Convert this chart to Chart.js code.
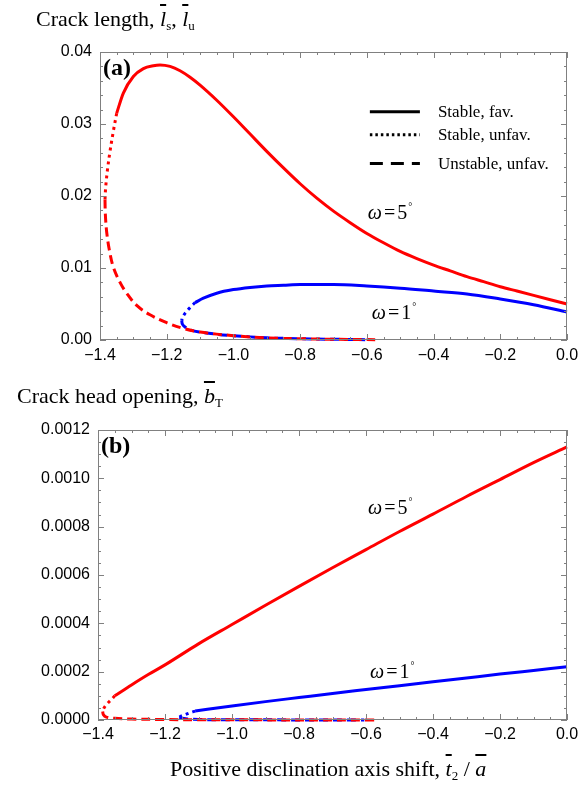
<!DOCTYPE html>
<html>
<head>
<meta charset="utf-8">
<script src="https://cdn.jsdelivr.net/npm/chart.js@4/dist/chart.umd.min.js"></script>
<style>
  body { margin: 0; background: #fff; }
  #page { position: relative; width: 587px; height: 789px; overflow: hidden; }
  .box { position: absolute; left: 0; width: 587px; }
  .ttl { position: absolute; font-family: "Liberation Serif", serif; font-size: 22px; color: #000; white-space: nowrap; }
  .ov { font-style: italic; text-decoration: overline; }
  sub { font-size: 13px; vertical-align: -4px; }
</style>
</head>
<body>
<div id="page">
  <div class="box" style="top:0;height:380px"><canvas id="lenChart"></canvas></div>
  <div class="box" style="top:380px;height:409px"><canvas id="openChart"></canvas></div>
  <div class="ttl" style="left:36px;top:6px">Crack length, <span class="ov">l</span><sub>s</sub>, <span class="ov">l</span><sub>u</sub></div>
  <div class="ttl" style="left:17px;top:383px">Crack head opening, <span class="ov">b</span><sub>T</sub></div>
  <div class="ttl" style="left:170px;top:756px">Positive disclination axis shift, <span class="ov">t</span><sub>2</sub> / <span class="ov">a</span></div>
</div>
<script>
// x: disclination axis shift, pairs are [x, y]
const shiftTicks = [-1.4, -1.2, -1.0, -0.8, -0.6, -0.4, -0.2, 0.0];
const lenTicks = [0, 0.01, 0.02, 0.03, 0.04];
const openTicks = [0, 0.0002, 0.0004, 0.0006, 0.0008, 0.0010, 0.0012];

// (a) crack length, omega = 5 deg
const len5Fav = [[-1.35,0.0315],[-1.33,0.0343],[-1.30,0.0366],[-1.27,0.0377],[-1.24,0.0381],[-1.22,0.0382],
  [-1.19,0.0380],[-1.16,0.0374],[-1.13,0.0365],[-1.10,0.0354],[-1.05,0.0333],[-1.00,0.0310],[-0.95,0.0286],
  [-0.90,0.0262],[-0.85,0.0239],[-0.80,0.0217],[-0.75,0.0197],[-0.70,0.0179],[-0.65,0.0163],[-0.60,0.0148],
  [-0.55,0.0135],[-0.50,0.0123],[-0.45,0.0113],[-0.40,0.0104],[-0.35,0.0096],[-0.30,0.0088],[-0.25,0.0081],
  [-0.20,0.0074],[-0.15,0.0068],[-0.10,0.0062],[-0.05,0.0056],[0.00,0.0050]];
const len5Unfav = [[-1.35,0.0315],[-1.36,0.0290],[-1.37,0.0262],[-1.378,0.0235],[-1.383,0.0212],[-1.385,0.0195]];
const len5Unst = [[-1.385,0.0195],[-1.384,0.0175],[-1.380,0.0150],[-1.372,0.0125],[-1.36,0.0101],[-1.34,0.0080],
  [-1.32,0.0065],[-1.29,0.0048],[-1.25,0.0035],[-1.20,0.0024],[-1.15,0.0016],[-1.10,0.0011],[-1.00,0.0006],
  [-0.90,0.0003],[-0.80,0.00018],[-0.70,0.0001],[-0.575,0.00005]];
// (a) crack length, omega = 1 deg
const len1Fav = [[-1.115,0.0052],[-1.09,0.0058],[-1.05,0.0065],[-1.00,0.0070],[-0.95,0.0073],[-0.90,0.0075],
  [-0.85,0.0076],[-0.80,0.0077],[-0.70,0.0077],[-0.60,0.0075],[-0.50,0.0072],[-0.40,0.0068],[-0.30,0.0064],
  [-0.20,0.0057],[-0.10,0.0049],[0.00,0.0039]];
const len1Unfav = [[-1.115,0.0052],[-1.13,0.0045],[-1.145,0.0037],[-1.153,0.0031],[-1.155,0.0027]];
const len1Unst = [[-1.155,0.0027],[-1.153,0.0022],[-1.145,0.0018],[-1.13,0.0014],[-1.10,0.0011],[-1.05,0.0008],
  [-1.00,0.0006],[-0.90,0.0003],[-0.80,0.00018],[-0.70,0.0001],[-0.605,0.00005]];

// (b) crack head opening, omega = 5 deg
const open5Fav = [[-1.35,0.00010],[-1.30,0.000145],[-1.25,0.000188],[-1.20,0.000228],[-1.10,0.000315],
  [-1.00,0.000395],[-0.90,0.000475],[-0.80,0.000553],[-0.70,0.00063],[-0.60,0.000705],[-0.50,0.00078],
  [-0.40,0.000852],[-0.30,0.000925],[-0.20,0.000995],[-0.10,0.001065],[0.00,0.00113]];
const open5Unfav = [[-1.35,0.00010],[-1.36,0.000085],[-1.372,0.000068],[-1.382,0.00005],[-1.386,0.000035]];
const open5Unst = [[-1.386,0.000035],[-1.384,0.000022],[-1.375,0.000012],[-1.35,0.000007],[-1.30,0.000004],
  [-1.20,0.000002],[-1.10,0.000001],[-0.575,0]];
// (b) crack head opening, omega = 1 deg
const open1Fav = [[-1.11,0.000037],[-1.00,0.000058],[-0.90,0.000076],[-0.80,0.000093],[-0.70,0.000110],
  [-0.60,0.000126],[-0.50,0.000142],[-0.40,0.000158],[-0.30,0.000174],[-0.20,0.00019],[-0.10,0.000205],[0.00,0.00022]];
const open1Unfav = [[-1.11,0.000037],[-1.125,0.000030],[-1.14,0.000022],[-1.152,0.000016],[-1.157,0.000012]];
const open1Unst = [[-1.157,0.000012],[-1.15,0.000007],[-1.13,0.000004],[-1.10,0.000002],[-1.00,0.000001],[-0.605,0]];

const RED = '#ff0000', BLUE = '#0000ff';
const DASHES = { fav: [], unfav: [3, 4], unst: [9, 5] };

function line(points, color, kind) {
  const ds = {
    data: points.map(p => ({ x: p[0], y: p[1] })),
    borderColor: color,
    borderWidth: 3,
    borderDash: DASHES[kind],
    pointRadius: 0,
    fill: false,
    clip: 4
  };
  if (kind === 'fav') ds.cubicInterpolationMode = 'monotone';
  else ds.tension = 0.35;
  return ds;
}

const minus = s => s.replace('-', '\u2212');

// frame with inward ticks + panel annotations
const framePlugin = {
  id: 'frame',
  afterDraw(chart, args, o) {
    const { ctx, chartArea: a, scales: { x, y } } = chart;
    ctx.save();
    ctx.strokeStyle = '#808080';
    ctx.lineWidth = 1;
    ctx.strokeRect(Math.round(a.left) + 0.5, Math.round(a.top) + 0.5, Math.round(a.width) - 1, Math.round(a.height) - 1);

    const tickSet = (scale, step, major, draw) => {
      const n = Math.round((scale.max - scale.min) / step);
      for (let i = 0; i <= n; i++) {
        const v = scale.min + i * step;
        const r = v / major;
        const isMajor = Math.abs(r - Math.round(r)) < 1e-6;
        draw(Math.round(scale.getPixelForValue(v)) + 0.5, isMajor ? 6 : 3);
      }
    };
    ctx.beginPath();
    tickSet(x, o.xMinor, o.xMajor, (px, len) => {
      ctx.moveTo(px, a.bottom); ctx.lineTo(px, a.bottom - len);
      ctx.moveTo(px, a.top); ctx.lineTo(px, a.top + len);
    });
    tickSet(y, o.yMinor, o.yMajor, (py, len) => {
      ctx.moveTo(a.left, py); ctx.lineTo(a.left + len, py);
      ctx.moveTo(a.right, py); ctx.lineTo(a.right - len, py);
    });
    ctx.stroke();

    ctx.fillStyle = '#000';
    ctx.textBaseline = 'alphabetic';
    ctx.font = 'bold 24px "Liberation Serif"';
    ctx.fillText(o.panel, a.left + 3, a.top + 23);

    o.omegas.forEach(l => {
      let px = x.getPixelForValue(l.x);
      const py = y.getPixelForValue(l.y);
      ctx.font = 'italic 20px "Liberation Serif"';
      ctx.fillText('\u03c9', px, py);
      px += ctx.measureText('\u03c9').width + 2;
      ctx.font = '20px "Liberation Serif"';
      ctx.fillText('=', px, py);
      px += ctx.measureText('=').width + 2;
      ctx.fillText(l.deg, px, py);
      px += ctx.measureText(l.deg).width + 1;
      ctx.font = '10px "Liberation Serif"';
      ctx.fillText('\u00b0', px, py - 9);
    });

    if (o.legend) {
      const lg = o.legend;
      lg.rows.forEach((r, i) => {
        const py = y.getPixelForValue(lg.y[i]);
        const x0 = x.getPixelForValue(lg.x0), x1 = x.getPixelForValue(lg.x1);
        ctx.beginPath();
        ctx.setLineDash(r.dash);
        ctx.strokeStyle = '#000';
        ctx.lineWidth = 3;
        ctx.moveTo(x0, py); ctx.lineTo(x1, py);
        ctx.stroke();
        ctx.setLineDash([]);
        ctx.font = '17px "Liberation Serif"';
        ctx.fillText(r.text, x.getPixelForValue(lg.xt), py + 5);
      });
    }
    ctx.restore();
  }
};

function axisX(height, pad) {
  return {
    type: 'linear', min: -1.4, max: 0,
    afterFit: s => { s.height = height; },
    afterBuildTicks: s => { s.ticks = shiftTicks.map(v => ({ value: v })); },
    grid: { display: false, drawTicks: false },
    border: { display: false },
    ticks: {
      padding: pad, maxRotation: 0, color: '#000',
      font: { family: 'Liberation Sans', size: 16 },
      callback: v => minus(v.toFixed(1))
    }
  };
}
function axisY(width, max, ticks, dec) {
  return {
    type: 'linear', min: 0, max: max,
    afterFit: s => { s.width = width; },
    afterBuildTicks: s => { s.ticks = ticks.map(v => ({ value: v })); },
    grid: { display: false, drawTicks: false },
    border: { display: false },
    ticks: {
      padding: 8, color: '#000',
      font: { family: 'Liberation Sans', size: 16 },
      callback: v => v.toFixed(dec)
    }
  };
}

new Chart(document.getElementById('lenChart'), {
  type: 'line',
  data: {
    datasets: [
      line(len5Fav, RED, 'fav'), line(len5Unfav, RED, 'unfav'), line(len5Unst, RED, 'unst'),
      line(len1Fav, BLUE, 'fav'), line(len1Unfav, BLUE, 'unfav'), line(len1Unst, BLUE, 'unst')
    ]
  },
  options: {
    responsive: true, maintainAspectRatio: false, animation: false,
    layout: { padding: { top: 52, right: 20, left: 0, bottom: 0 } },
    scales: { x: axisX(40, 6), y: axisY(100, 0.04, lenTicks, 2) },
    plugins: {
      legend: { display: false }, tooltip: { enabled: false },
      frame: {
        panel: '(a)', xMinor: 0.05, xMajor: 0.2, yMinor: 0.002, yMajor: 0.01,
        omegas: [{ x: -0.597, y: 0.0168, deg: '5' }, { x: -0.585, y: 0.0029, deg: '1' }],
        legend: {
          x0: -0.591, x1: -0.441, xt: -0.387, y: [0.0317, 0.0285, 0.0245],
          rows: [{ text: 'Stable, fav.', dash: [] }, { text: 'Stable, unfav.', dash: [2.5, 3] },
                 { text: 'Unstable, unfav.', dash: [13, 8] }]
        }
      }
    }
  },
  plugins: [framePlugin]
});

new Chart(document.getElementById('openChart'), {
  type: 'line',
  data: {
    datasets: [
      line(open5Fav, RED, 'fav'), line(open5Unfav, RED, 'unfav'), line(open5Unst, RED, 'unst'),
      line(open1Fav, BLUE, 'fav'), line(open1Unfav, BLUE, 'unfav'), line(open1Unst, BLUE, 'unst')
    ]
  },
  options: {
    responsive: true, maintainAspectRatio: false, animation: false,
    layout: { padding: { top: 50, right: 20, left: 0, bottom: 0 } },
    scales: { x: axisX(69, 5), y: axisY(98, 0.0012, openTicks, 4) },
    plugins: {
      legend: { display: false }, tooltip: { enabled: false },
      frame: {
        panel: '(b)', xMinor: 0.05, xMajor: 0.2, yMinor: 0.00005, yMajor: 0.0002,
        omegas: [{ x: -0.594, y: 0.000852, deg: '5' }, { x: -0.588, y: 0.000174, deg: '1' }]
      }
    }
  },
  plugins: [framePlugin]
});
</script>
</body>
</html>
